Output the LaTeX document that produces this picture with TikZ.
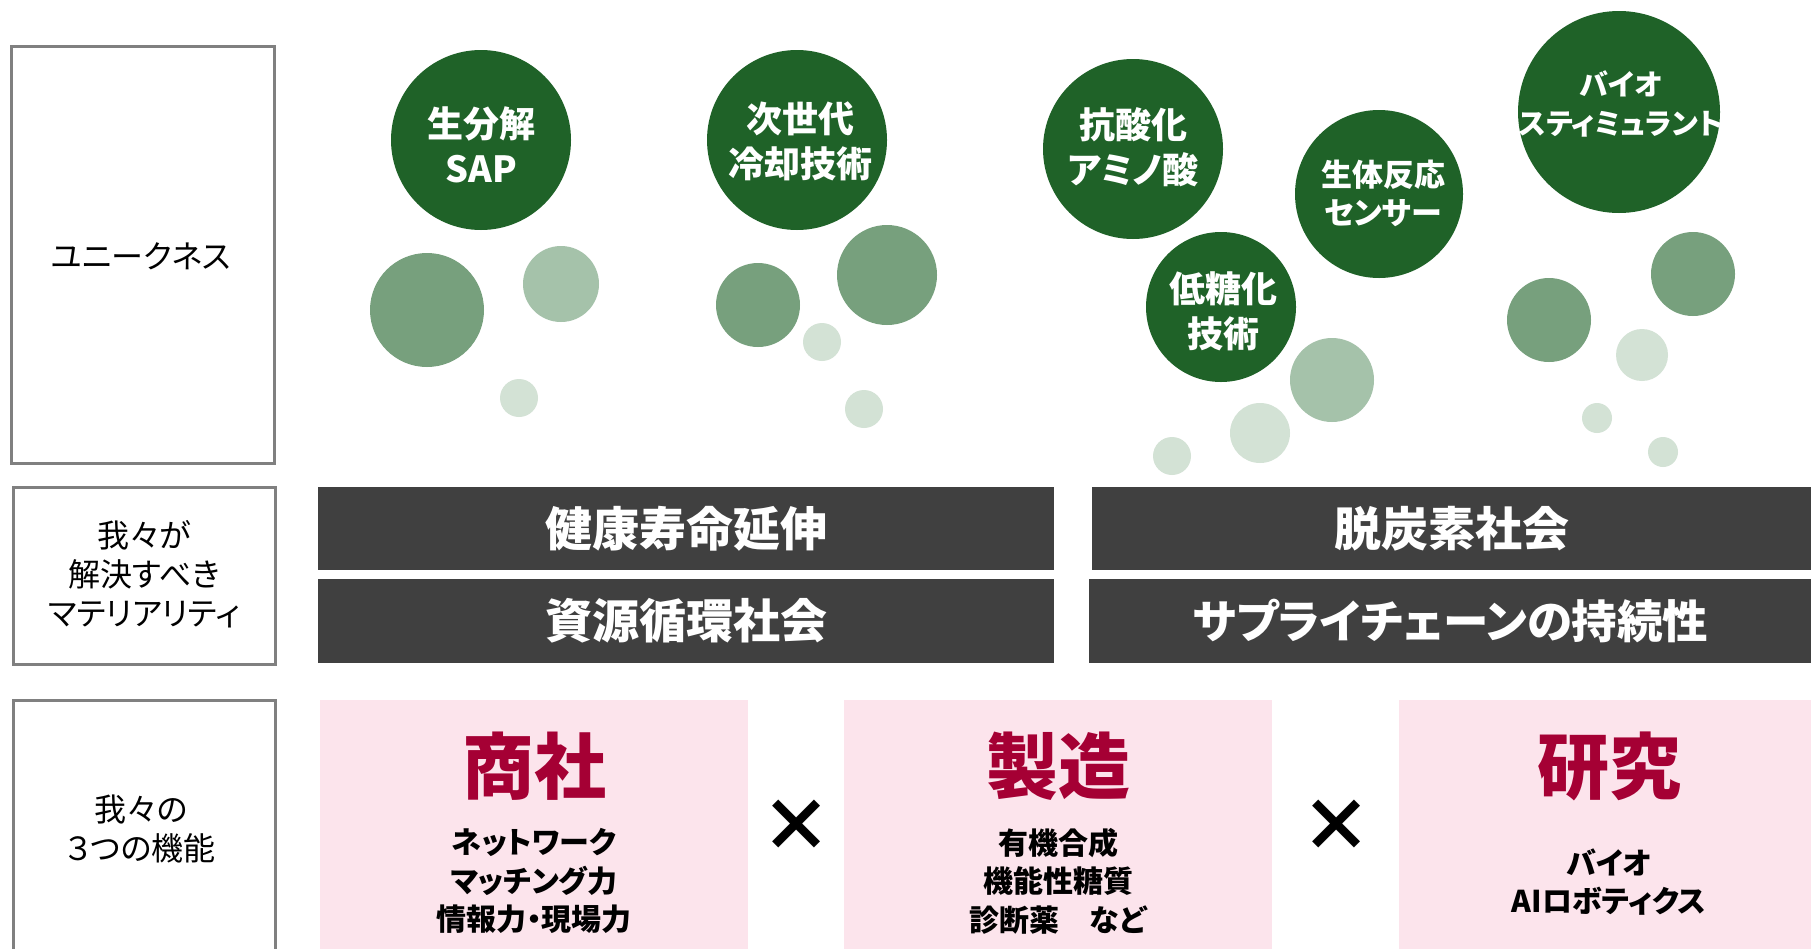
\documentclass[tikz,border=0pt]{standalone}
\usepackage{fontspec}
\setmainfont{Noto Sans CJK JP}[RawFeature=+palt]
\definecolor{dkgreen}{HTML}{1F6228}
\definecolor{mdgreen}{HTML}{77A07D}
\definecolor{ltgreen}{HTML}{A5C2AA}
\definecolor{vlgreen}{HTML}{D3E2D5}
\definecolor{bargray}{HTML}{404040}
\definecolor{pinkbg}{HTML}{FCE4EC}
\definecolor{crimson}{HTML}{A50034}
\definecolor{lblgray}{HTML}{808080}
\begin{document}
\begin{tikzpicture}[x=1pt,y=-1pt,
  lblbox/.style={draw=lblgray, line width=2.5pt, fill=white, anchor=north west, inner sep=0pt},
  lbltext/.style={font=\fontsize{32}{39}\selectfont, align=center, text=black},
  bub/.style={circle, inner sep=0pt, draw=none},
  bigbub/.style={bub, fill=dkgreen},
  mdbub/.style={bub, fill=mdgreen},
  ltbub/.style={bub, fill=ltgreen},
  vlbub/.style={bub, fill=vlgreen},
  bubtext/.style={text=white, align=center, font=\bfseries\fontsize{36}{45}\selectfont},
  bubtextsm/.style={text=white, align=center, font=\bfseries\fontsize{31}{38}\selectfont},
  bubtextxs/.style={text=white, align=center, font=\bfseries\fontsize{29}{39}\selectfont},
  bar/.style={fill=bargray, text=white, inner sep=0pt, font=\bfseries\fontsize{47}{50}\selectfont},
  pinkbox/.style={fill=pinkbg, inner sep=0pt, anchor=north west},
  ptitle/.style={text=crimson, font=\bfseries\fontsize{72}{72}\selectfont},
  psub/.style={text=black, align=center, font=\bfseries\fontsize{30}{38.5}\selectfont},
  times/.style={text=black, font=\bfseries\fontsize{72}{72}\selectfont}
]
\clip (0,0) rectangle (1811,948);
\fill[white] (0,0) rectangle (1811,948);

% left labels
\node[lblbox, minimum width=263pt, minimum height=417pt] (L1) at (10,45) {};
\node[lbltext] (L1t) at (141,256) {ユニークネス};
\node[lblbox, minimum width=262pt, minimum height=177pt] (L2) at (12,486) {};
\node[lbltext] (L2t) at ([yshift=2pt]L2.center) {我々が\\解決すべき\\マテリアリティ};
\node[lblbox, minimum width=262pt, minimum height=280pt] (L3) at (12,699) {};
\node[lbltext] (L3t) at (141,829) {我々の\\３つの機能};

% small bubbles
\node[mdbub, minimum size=114pt] (m1) at (427,310) {};
\node[ltbub, minimum size=76pt] (l1) at (561,284) {};
\node[vlbub, minimum size=38pt] (v1) at (519,398) {};
\node[mdbub, minimum size=84pt] (m2) at (758,305) {};
\node[mdbub, minimum size=100pt] (m3) at (887,275) {};
\node[vlbub, minimum size=38pt] (v2) at (822,342) {};
\node[vlbub, minimum size=38pt] (v3) at (864,409) {};
\node[ltbub, minimum size=84pt] (l2) at (1332,380) {};
\node[vlbub, minimum size=38pt] (v4) at (1172,456) {};
\node[vlbub, minimum size=60pt] (v5) at (1260,433) {};
\node[mdbub, minimum size=84pt] (m4) at (1549,320) {};
\node[mdbub, minimum size=84pt] (m5) at (1693,274) {};
\node[vlbub, minimum size=52pt] (v6) at (1642,355) {};
\node[vlbub, minimum size=30pt] (v7) at (1597,418) {};
\node[vlbub, minimum size=30pt] (v8) at (1663,452) {};

% big bubbles
\node[bigbub, minimum size=180pt] (c1) at (481,140) {};
\node[bubtext] (c1t) at (481,145) {生分解\\SAP};
\node[bigbub, minimum size=180pt] (c2) at (797,140) {};
\node[bubtext] (c2t) at (800,141) {次世代\\冷却技術};
\node[bigbub, minimum size=180pt] (c3) at (1133,149) {};
\node[bubtext] (c3t) at (1133,147) {抗酸化\\アミノ酸};
\node[bigbub, minimum size=150pt] (c4) at (1221,307) {};
\node[bubtext] (c4t) at (1223,311) {低糖化\\技術};
\node[bigbub, minimum size=168pt] (c5) at (1379,194) {};
\node[bubtextsm] (c5t) at (1383,193) {生体反応\\センサー};
\node[bigbub, minimum size=202pt] (c6) at (1619,112) {};
\node[bubtextxs] (c6t) at (1621,104) {バイオ\\スティミュラント};

% materiality bars
\node[bar, minimum width=736pt, minimum height=83pt, anchor=north west] (b1) at (318,487) {健康寿命延伸};
\node[bar, minimum width=736pt, minimum height=84pt, anchor=north west] (b2) at (318,579) {資源循環社会};
\node[bar, minimum width=720pt, minimum height=83pt, anchor=north west] (b3) at (1092,487) {脱炭素社会};
\node[bar, minimum width=723pt, minimum height=84pt, anchor=north west, font=\bfseries\fontsize{45.5}{50}\selectfont] (b4) at (1089,579) {サプライチェーンの持続性};

% functions
\node[pinkbox, minimum width=428pt, minimum height=260pt] (p1) at (320,700) {};
\node[ptitle] (p1t) at (534,766) {商社};
\node[psub] (p1s) at (534,881) {ネットワーク\\マッチング力\\情報力・現場力};
\node[times] (x1) at (796,826) {×};
\node[pinkbox, minimum width=428pt, minimum height=260pt] (p2) at (844,700) {};
\node[ptitle] (p2t) at (1058,766) {製造};
\node[psub] (p2s) at (1058,881) {有機合成\\機能性糖質\\診断薬　など};
\node[times] (x2) at (1336,826) {×};
\node[pinkbox, minimum width=420pt, minimum height=260pt] (p3) at (1399,700) {};
\node[ptitle] (p3t) at (1609,766) {研究};
\node[psub] (p3s) at (1609,882) {バイオ\\AIロボティクス};
\end{tikzpicture}
\end{document}
